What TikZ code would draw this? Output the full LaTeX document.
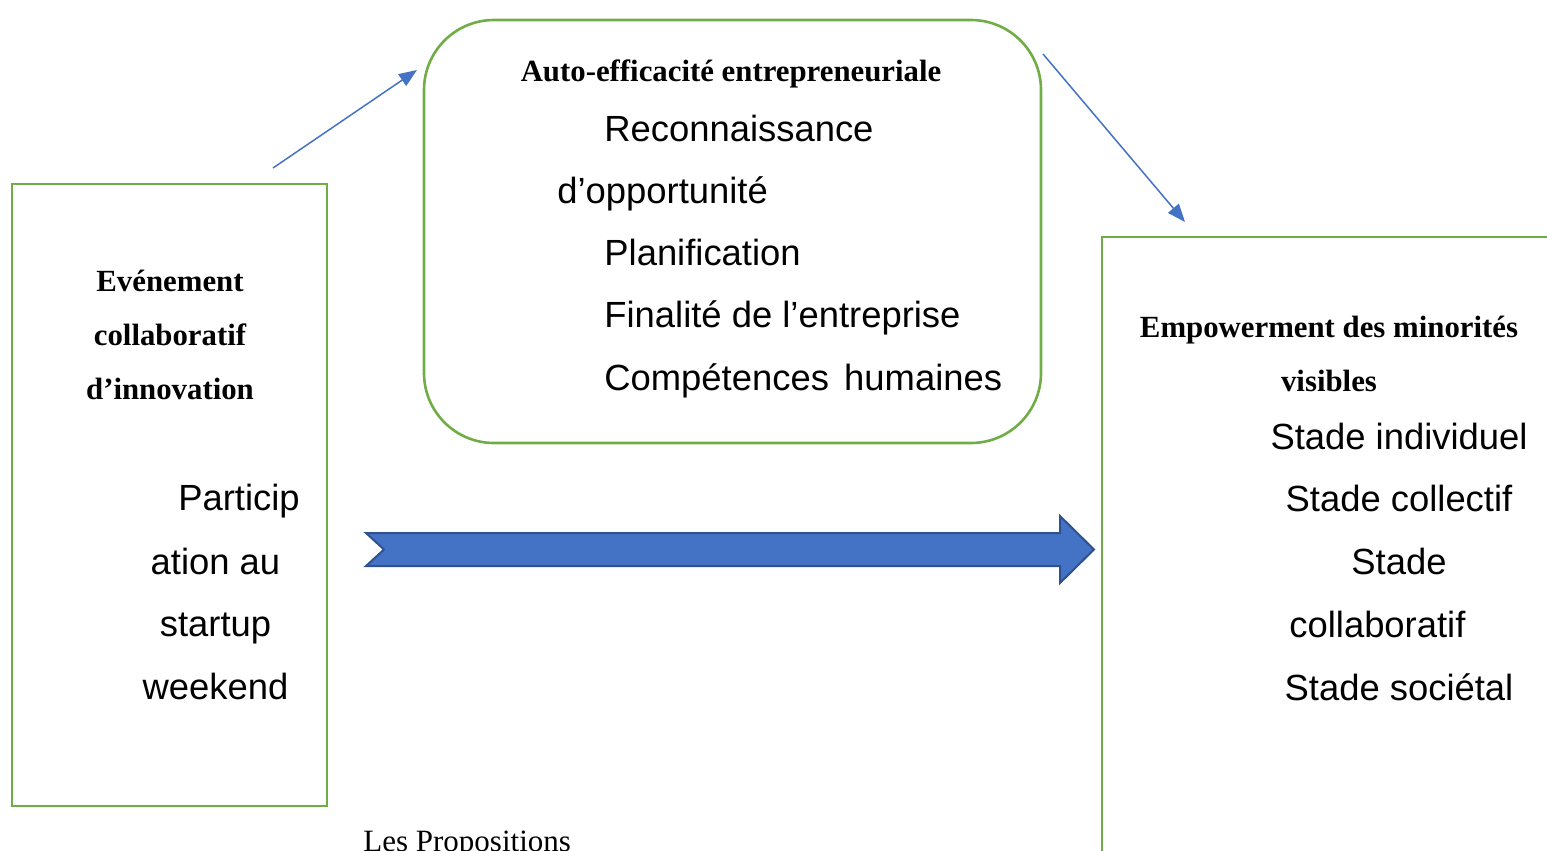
\documentclass[tikz,border=0pt]{standalone}
\usepackage{fontspec}
\setmainfont{Liberation Serif}
\setsansfont{Liberation Sans}
\usetikzlibrary{arrows.meta, fit, positioning}
\definecolor{cadreVert}{HTML}{70AD47}
\definecolor{flecheBleu}{HTML}{4472C4}
\definecolor{flecheBord}{HTML}{2F528F}

\begin{document}
\begin{tikzpicture}[x=0.5pt, y=-0.5pt,
  cadre/.style={draw=cadreVert, line width=1.3pt, inner sep=0pt},
  titre/.style={anchor=base, inner sep=0pt, font=\fontsize{15.4}{18}\selectfont\bfseries},
  item/.style={anchor=base west, inner sep=0pt, font=\fontsize{18.2}{22}\selectfont\sffamily},
  itemc/.style={item, anchor=base},
  lien/.style={draw=flecheBleu, line width=0.75pt, -{Triangle[length=9pt, width=7pt]}}]
\path[use as bounding box, clip] (0,0) rectangle (1547,851);

% the three blocks
\node[cadre, fit={(12,184) (327,806)}] (evenement) {};
\node[cadre, rounded corners=35pt, fit={(424,20) (1041,443)}] (autoeff) {};
\node[cadre, fit={(1102,237) (1580,900)}] (empower) {};

% block titles
\node[titre] (t-auto) at (731,81) {Auto-efficacité entrepreneuriale};
\node[titre] (t-ev1) at (170,291) {Evénement};
\node[titre] (t-ev2) at (170,345) {collaboratif};
\node[titre] (t-ev3) at (170,399) {d’innovation};
\node[titre] (t-emp1) at (1329,337) {Empowerment des minorités};
\node[titre] (t-emp2) at (1329,391) {visibles};

% dimensions of self-efficacy
\foreach \x/\y/\txt [count=\i] in {604/141/Reconnaissance, 557/203/d’opportunité,
    604/265/Planification, 604/327/Finalité de l’entreprise,
    604/390/{Compétences\hspace{0.42em}humaines}}
  \node[item] (ae-\i) at (\x,\y) {\txt};

% participation text
\foreach \x/\y/\txt [count=\i] in {239/510/Particip, 215.5/574/ation au,
    215.5/636/startup, 215.5/699/weekend}
  \node[itemc] (part-\i) at (\x,\y) {\txt};

% empowerment stages
\foreach \y/\txt [count=\i] in {449/Stade individuel, 511/Stade collectif,
    574/Stade, 700/Stade sociétal}
  \node[itemc] (stade-\i) at (1399,\y) {\txt};
\node[item] (stade-collab) at (1289,637) {collaboratif};

% main arrow
\draw[fill=flecheBleu, draw=flecheBord, line width=1pt]
  (366,533) -- (1060,533) -- (1060,516) -- (1094,549.5) -- (1060,583)
  -- (1060,566) -- (366,566) -- (384,549.5) -- cycle;

% mediating arrows
\coordinate (l1-debut) at (273,168);
\coordinate (l1-fin) at (417,70);
\coordinate (l2-debut) at (1043,54);
\coordinate (l2-fin) at (1185,222);
\draw[lien] (l1-debut) -- (l1-fin);
\draw[lien] (l2-debut) -- (l2-fin);

\node[anchor=base west, inner sep=0pt, font=\fontsize{15.5}{18}\selectfont]
  (propositions) at (363,851) {Les Propositions};
\end{tikzpicture}
\end{document}
